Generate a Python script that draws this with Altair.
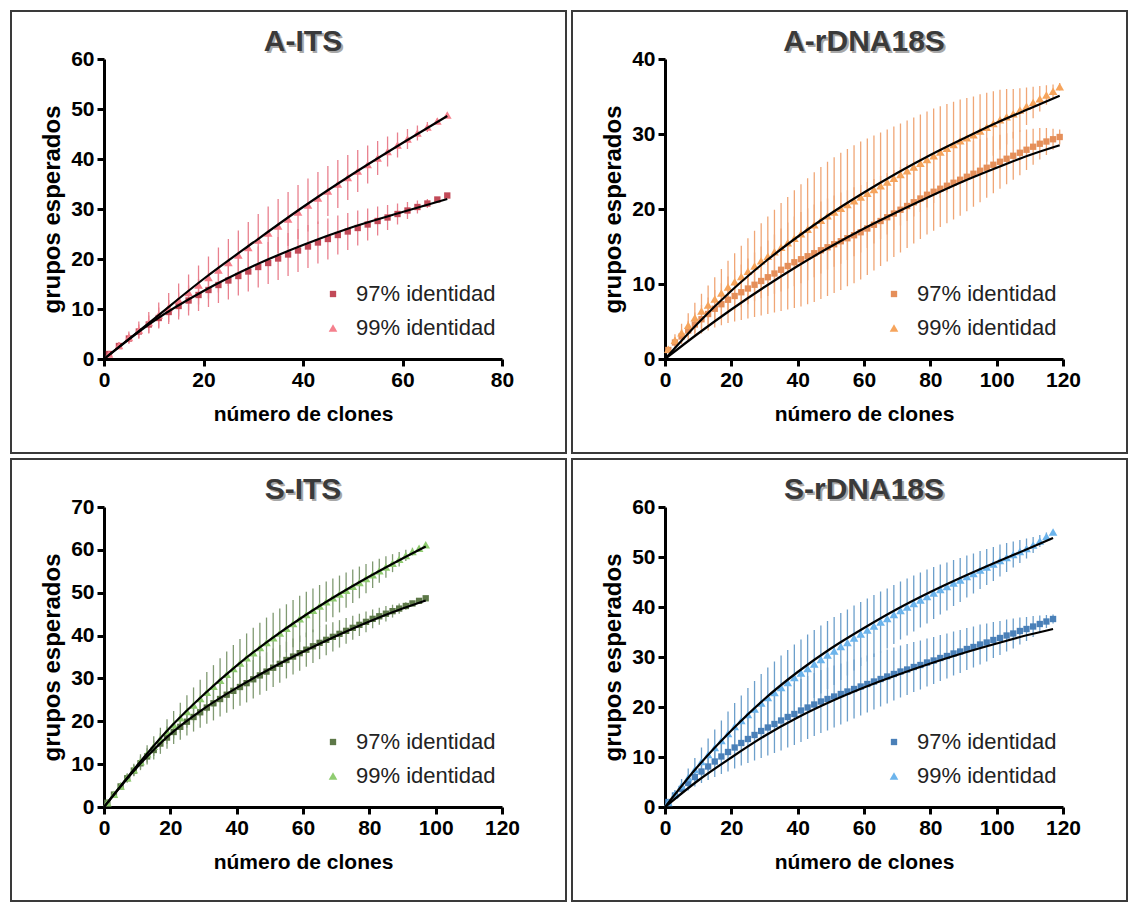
import altair as alt
import pandas as pd

LABELS = ["97% identidad", "99% identidad"]

# ---------------- A-ITS ----------------
AITS_X = list(range(1, 70, 2))
AITS_97 = [1.0, 2.6, 4.1, 5.5, 6.9, 8.2, 9.4, 10.6, 11.7, 12.8, 13.8, 14.8, 15.7, 16.6, 17.5,
           18.4, 19.2, 20.1, 20.9, 21.7, 22.5, 23.3, 24.0, 24.8, 25.5, 26.2, 26.9, 27.6, 28.3,
           29.0, 29.7, 30.4, 31.1, 31.9, 32.7]
AITS_97_SD = [0.2, 0.6, 1.0, 1.4, 1.8, 2.1, 2.4, 2.7, 3.0, 3.2, 3.4, 3.6, 3.8, 3.9, 4.0, 4.1,
              4.2, 4.3, 4.3, 4.3, 4.3, 4.2, 4.1, 3.9, 3.7, 3.5, 3.2, 2.9, 2.5, 2.1, 1.7, 1.3,
              0.9, 0.5, 0.1]
AITS_99 = [1.0, 2.7, 4.3, 5.8, 7.3, 8.8, 10.3, 11.8, 13.3, 14.8, 16.3, 17.8, 19.3, 20.8, 22.3,
           23.8, 25.2, 26.6, 28.0, 29.4, 30.8, 32.2, 33.6, 35.0, 36.3, 37.6, 38.9, 40.2, 41.5,
           42.8, 44.0, 45.2, 46.4, 47.6, 48.8]
AITS_99_SD = [0.2, 0.7, 1.2, 1.7, 2.1, 2.5, 2.9, 3.3, 3.6, 3.9, 4.2, 4.5, 4.7, 4.9, 5.1, 5.2,
              5.3, 5.4, 5.4, 5.4, 5.3, 5.2, 5.0, 4.8, 4.5, 4.2, 3.8, 3.4, 3.0, 2.5, 2.0, 1.5,
              1.0, 0.5, 0.1]
AITS_FIT_X = [0, 10, 20, 30, 40, 50, 60, 69]
AITS_FIT_97 = [0, 7.6, 13.6, 18.6, 22.8, 26.4, 29.4, 32.0]
AITS_FIT_99 = [0, 8.0, 16.0, 23.3, 30.4, 37.0, 43.2, 48.6]

# ---------------- A-rDNA18S ----------------
AR_X = list(range(1, 120, 2))
AR_97 = [1.2, 2.2, 3.0, 3.8, 4.6, 5.3, 6.0, 6.7, 7.3, 7.9, 8.4, 8.9, 9.4, 9.9, 10.4, 10.9,
         11.4, 11.9, 12.4, 12.9, 13.3, 13.7, 14.1, 14.5, 14.9, 15.3, 15.7, 16.1, 16.5, 16.9,
         17.4, 17.9, 18.4, 18.9, 19.4, 19.9, 20.4, 20.9, 21.4, 21.9, 22.3, 22.7, 23.1, 23.5,
         23.9, 24.3, 24.7, 25.1, 25.5, 25.9, 26.3, 26.7, 27.1, 27.5, 27.9, 28.3, 28.7, 29.0,
         29.3, 29.6]
AR_97_SD = [0.3, 0.7, 1.0, 1.3, 1.6, 1.9, 2.2, 2.5, 2.8, 3.1, 3.4, 3.7, 4.0, 4.3, 4.6, 4.9,
            5.2, 5.5, 5.8, 6.1, 6.3, 6.4, 6.5, 6.5, 6.5, 6.5, 6.5, 6.4, 6.4, 6.3, 6.2, 6.1,
            6.0, 5.9, 5.8, 5.7, 5.6, 5.5, 5.4, 5.3, 5.2, 5.1, 5.0, 4.9, 4.8, 4.6, 4.4, 4.2,
            4.0, 3.8, 3.6, 3.4, 3.2, 3.0, 2.7, 2.4, 2.1, 1.8, 1.4, 1.0]
AR_99 = [1.3, 2.5, 3.5, 4.5, 5.5, 6.4, 7.2, 8.0, 8.8, 9.6, 10.3, 11.0, 11.7, 12.4, 13.1, 13.7,
         14.3, 14.9, 15.5, 16.1, 16.7, 17.3, 17.9, 18.5, 19.1, 19.6, 20.1, 20.6, 21.1, 21.6,
         22.1, 22.6, 23.1, 23.6, 24.1, 24.6, 25.1, 25.6, 26.1, 26.6, 27.1, 27.6, 28.1, 28.6,
         29.1, 29.5, 29.9, 30.4, 30.9, 31.4, 31.9, 32.3, 32.7, 33.2, 33.7, 34.2, 34.7, 35.2,
         35.7, 36.3]
AR_99_SD = [0.3, 0.8, 1.2, 1.6, 2.0, 2.3, 2.6, 2.9, 3.2, 3.5, 3.8, 4.1, 4.4, 4.7, 5.0, 5.3,
            5.6, 5.9, 6.1, 6.4, 6.6, 6.8, 7.0, 7.1, 7.2, 7.3, 7.4, 7.4, 7.4, 7.4, 7.3, 7.2,
            7.1, 7.0, 6.9, 6.8, 6.7, 6.6, 6.5, 6.4, 6.3, 6.1, 5.9, 5.7, 5.5, 5.3, 5.1, 4.9,
            4.6, 4.3, 4.0, 3.7, 3.3, 2.9, 2.5, 2.1, 1.7, 1.3, 0.9, 0.5]
AR_FIT_X = [0, 10, 20, 30, 40, 50, 60, 70, 80, 90, 100, 110, 119]
AR_FIT_97 = [0, 3.4, 6.6, 9.6, 12.4, 15.0, 17.4, 19.6, 21.7, 23.7, 25.5, 27.2, 28.5]
AR_FIT_99 = [0, 4.8, 9.1, 12.9, 16.3, 19.4, 22.2, 24.8, 27.2, 29.4, 31.5, 33.4, 35.1]

# ---------------- S-ITS ----------------
SI_X = list(range(1, 98, 2))
SI_97 = [1.0, 2.9, 4.8, 6.7, 8.5, 10.2, 11.8, 13.3, 14.8, 16.2, 17.5, 18.7, 19.9, 21.0, 22.1,
         23.2, 24.2, 25.2, 26.2, 27.1, 28.0, 28.9, 29.8, 30.7, 31.6, 32.5, 33.4, 34.3, 35.1,
         35.9, 36.7, 37.5, 38.3, 39.0, 39.7, 40.4, 41.1, 41.8, 42.5, 43.2, 43.9, 44.5, 45.1,
         45.7, 46.3, 46.9, 47.5, 48.1, 48.7]
SI_97_SD = [0.2, 0.4, 0.7, 1.0, 1.3, 1.6, 1.9, 2.2, 2.4, 2.6, 2.8, 3.0, 3.2, 3.4, 3.6, 3.8,
            4.0, 4.1, 4.2, 4.3, 4.4, 4.5, 4.5, 4.5, 4.5, 4.5, 4.4, 4.3, 4.2, 4.1, 4.0, 3.9,
            3.8, 3.6, 3.4, 3.2, 3.0, 2.8, 2.6, 2.4, 2.2, 2.0, 1.8, 1.5, 1.2, 0.9, 0.6, 0.4, 0.2]
SI_99 = [1.0, 3.0, 4.9, 6.8, 8.7, 10.6, 12.4, 14.2, 15.9, 17.6, 19.2, 20.8, 22.3, 23.8, 25.3,
         26.8, 28.2, 29.6, 31.0, 32.3, 33.6, 34.8, 36.0, 37.2, 38.4, 39.5, 40.6, 41.7, 42.8,
         43.9, 44.9, 45.9, 46.9, 47.9, 48.8, 49.7, 50.6, 51.5, 52.4, 53.3, 54.2, 55.1, 56.0,
         56.9, 57.8, 58.7, 59.6, 60.4, 61.2]
SI_99_SD = [0.2, 0.5, 0.8, 1.1, 1.4, 1.7, 2.0, 2.3, 2.6, 2.9, 3.2, 3.5, 3.8, 4.1, 4.4, 4.7,
            4.9, 5.1, 5.3, 5.5, 5.6, 5.7, 5.8, 5.8, 5.8, 5.8, 5.7, 5.6, 5.5, 5.4, 5.3, 5.1,
            4.9, 4.7, 4.5, 4.3, 4.1, 3.9, 3.7, 3.4, 3.1, 2.8, 2.5, 2.1, 1.7, 1.3, 0.9, 0.5, 0.2]
SI_FIT_X = [0, 10, 20, 30, 40, 50, 60, 70, 80, 90, 97]
SI_FIT_97 = [0, 9.3, 17.0, 22.9, 27.8, 32.2, 36.2, 39.9, 43.3, 46.3, 48.2]
SI_FIT_99 = [0, 9.7, 18.6, 26.2, 33.0, 39.0, 44.4, 49.3, 53.8, 58.0, 60.8]

# ---------------- S-rDNA18S ----------------
SR_X = list(range(1, 118, 2))
SR_97 = [1.0, 2.3, 3.6, 4.8, 6.0, 7.1, 8.1, 9.1, 10.1, 11.0, 11.9, 12.8, 13.6, 14.4, 15.2,
         15.9, 16.6, 17.3, 18.0, 18.6, 19.3, 19.9, 20.5, 21.1, 21.6, 22.1, 22.6, 23.1, 23.6,
         24.1, 24.6, 25.1, 25.6, 26.1, 26.6, 27.1, 27.5, 28.0, 28.4, 28.9, 29.3, 29.8, 30.2,
         30.7, 31.1, 31.6, 32.0, 32.5, 32.9, 33.4, 33.8, 34.3, 34.7, 35.2, 35.6, 36.1, 36.6,
         37.1, 37.6]
SR_97_SD = [0.3, 0.7, 1.1, 1.5, 1.9, 2.3, 2.7, 3.1, 3.5, 3.9, 4.2, 4.5, 4.8, 5.1, 5.4, 5.6,
            5.8, 6.0, 6.1, 6.2, 6.3, 6.3, 6.3, 6.3, 6.3, 6.2, 6.1, 6.0, 5.9, 5.8, 5.7, 5.6,
            5.5, 5.4, 5.3, 5.2, 5.1, 5.0, 4.9, 4.8, 4.7, 4.6, 4.5, 4.4, 4.3, 4.2, 4.1, 4.0,
            3.8, 3.6, 3.4, 3.2, 3.0, 2.7, 2.4, 2.1, 1.7, 1.3, 0.9]
SR_99 = [0.9, 2.6, 4.3, 5.9, 7.5, 9.1, 10.5, 11.9, 13.3, 14.7, 16.1, 17.3, 18.5, 19.6, 20.8,
         21.9, 22.9, 23.9, 24.9, 25.9, 26.8, 27.7, 28.6, 29.5, 30.4, 31.2, 32.1, 32.9, 33.8,
         34.6, 35.4, 36.2, 37.0, 37.7, 38.5, 39.3, 40.0, 40.7, 41.4, 42.1, 42.8, 43.5, 44.1,
         44.8, 45.4, 46.1, 46.7, 47.4, 48.0, 48.6, 49.3, 49.9, 50.5, 51.1, 51.7, 52.4, 53.2,
         54.1, 55.0]
SR_99_SD = [0.3, 0.8, 1.3, 1.8, 2.3, 2.8, 3.2, 3.6, 4.0, 4.4, 4.7, 5.0, 5.3, 5.6, 5.8, 6.0,
            6.2, 6.4, 6.5, 6.6, 6.7, 6.8, 6.8, 6.8, 6.8, 6.8, 6.7, 6.6, 6.5, 6.4, 6.3, 6.2,
            6.1, 6.0, 5.9, 5.8, 5.7, 5.6, 5.5, 5.4, 5.2, 5.0, 4.8, 4.6, 4.4, 4.2, 4.0, 3.8,
            3.6, 3.4, 3.2, 2.9, 2.6, 2.3, 2.0, 1.6, 1.2, 0.8, 0.4]
SR_FIT_X = [0, 10, 20, 30, 40, 50, 60, 70, 80, 90, 100, 110, 117]
SR_FIT_97 = [0, 5.3, 9.9, 14.2, 17.9, 21.1, 23.9, 26.4, 28.7, 30.8, 32.7, 34.5, 35.6]
SR_FIT_99 = [0, 8.2, 15.3, 21.6, 27.0, 31.7, 35.8, 39.6, 43.0, 46.1, 49.0, 51.8, 53.8]

SANS = "Liberation Sans, Arial, Helvetica, sans-serif"
PW, PH = 398, 300
TITLE_SIZE = 30


def panel(title, xs, m97, s97, m99, s99, fx, f97, f99, xmax, ymax, c97, c99, cerr):
    rows = []
    for lab, m, s in ((LABELS[0], m97, s97), (LABELS[1], m99, s99)):
        for x, v, e in zip(xs, m, s):
            rows.append({"x": x, "y": v, "lo": v - e, "hi": v + e, "serie": lab})
    df = pd.DataFrame(rows)
    fit_rows = []
    for lab, f in ((LABELS[0], f97), (LABELS[1], f99)):
        for x, v in zip(fx, f):
            fit_rows.append({"x": x, "y": v, "serie": lab})
    fit = pd.DataFrame(fit_rows)

    xaxis = alt.Axis(values=list(range(0, xmax + 1, 20)), title="número de clones",
                     titleFontSize=21, titlePadding=13, labelFlush=False)
    yaxis = alt.Axis(values=list(range(0, ymax + 1, 10)), title="grupos esperados",
                     titleFontSize=24, titlePadding=6, labelFlush=False)
    X = alt.X("x:Q", scale=alt.Scale(domain=[0, xmax], nice=False), axis=xaxis)

    def Y(f):
        return alt.Y(f + ":Q", scale=alt.Scale(domain=[0, ymax], nice=False), axis=yaxis)

    leg = alt.Legend(title=None, orient="none", legendX=218, legendY=224, direction="vertical",
                     labelFontSize=22, labelFont=SANS, labelFontWeight="normal", labelColor="#222",
                     symbolSize=50, rowPadding=12, labelOffset=12, padding=0, symbolStrokeWidth=0)

    one = pd.DataFrame({"k": [0]})
    frame = alt.Chart(one).mark_rect(
        filled=False, stroke="#3a3a3a", strokeWidth=2
    ).encode(x=alt.value(-93), x2=alt.value(462), y=alt.value(-48), y2=alt.value(394))
    shadow = alt.Chart(one).mark_text(
        font=SANS, fontSize=TITLE_SIZE, fontWeight="bold", color="#a8a8a8",
        align="center", baseline="bottom"
    ).encode(text=alt.value(title), x=alt.value(PW / 2 + 2), y=alt.value(0))

    err = alt.Chart(df).mark_rule(color=cerr, strokeWidth=1.3).encode(x=X, y=Y("lo"), y2="hi")
    pts = alt.Chart(df).mark_point(filled=True, opacity=1).encode(
        x=X, y=Y("y"),
        color=alt.Color("serie:N", scale=alt.Scale(domain=LABELS, range=[c97, c99]), legend=leg),
        shape=alt.Shape("serie:N", scale=alt.Scale(domain=LABELS, range=["square", "triangle-up"]),
                        legend=leg),
        size=alt.Size("serie:N", scale=alt.Scale(domain=LABELS, range=[40, 75]), legend=None),
    )
    line = alt.Chart(fit).mark_line(color="black", strokeWidth=2.2, interpolate="monotone").encode(
        x=X, y=Y("y"), detail="serie:N"
    )
    return alt.layer(frame, shadow, err, pts, line).properties(
        width=PW, height=PH,
        title=alt.TitleParams(title, anchor="middle", frame="group", offset=-47,
                              fontSize=TITLE_SIZE, fontWeight="bold", font=SANS, color="#3a3a3a"),
    )


p1 = panel("A-ITS", AITS_X, AITS_97, AITS_97_SD, AITS_99, AITS_99_SD, AITS_FIT_X, AITS_FIT_97,
           AITS_FIT_99, 80, 60, "#c24a58", "#f5808d", "#e9808e")
p2 = panel("A-rDNA18S", AR_X, AR_97, AR_97_SD, AR_99, AR_99_SD, AR_FIT_X, AR_FIT_97, AR_FIT_99,
           120, 40, "#e58f5a", "#f6a45c", "#f0a676")
p3 = panel("S-ITS", SI_X, SI_97, SI_97_SD, SI_99, SI_99_SD, SI_FIT_X, SI_FIT_97, SI_FIT_99,
           120, 70, "#5d7848", "#8fcc70", "#809a72")
p4 = panel("S-rDNA18S", SR_X, SR_97, SR_97_SD, SR_99, SR_99_SD, SR_FIT_X, SR_FIT_97, SR_FIT_99,
           120, 60, "#4a80b8", "#6cb4ec", "#6c9fcb")

res = dict(x="independent", y="independent", color="independent", shape="independent",
           size="independent")
top = alt.hconcat(p1, p2, spacing=4).resolve_scale(**res)
bottom = alt.hconcat(p3, p4, spacing=4).resolve_scale(**res)
chart = alt.vconcat(top, bottom, spacing=4).resolve_scale(**res).configure(
    padding={"left": 10, "top": 10, "right": 0, "bottom": 0},
    background="white",
).configure_view(stroke=None).configure_axis(
    domainColor="black", domainWidth=3, tickColor="black", tickWidth=3, tickSize=7,
    labelFont=SANS, labelFontSize=21, labelFontWeight="bold", labelColor="black",
    labelPadding=3, titleFont=SANS, titleFontWeight="bold", titleColor="black", grid=False,
)

chart.save("out.html", embed_options={"renderer": "svg", "actions": False})
